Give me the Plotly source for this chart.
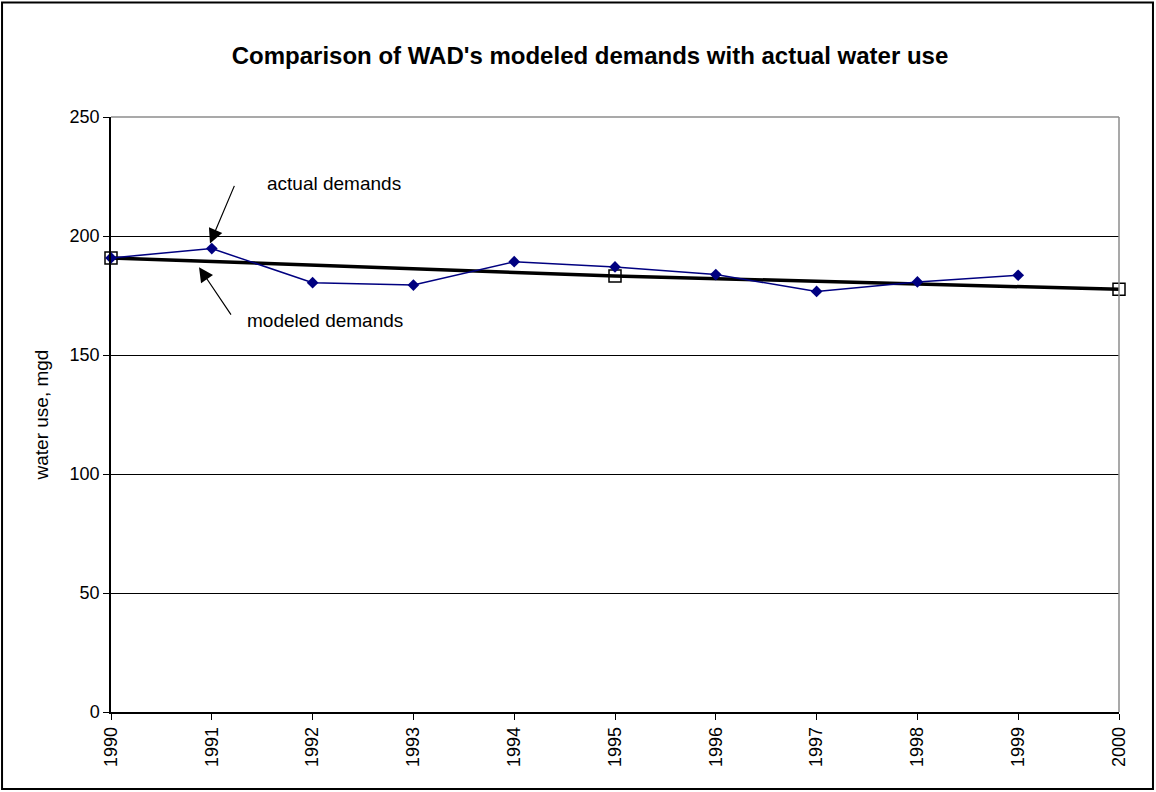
import plotly.graph_objects as go

# ----------------------------------
# DATA
# ----------------------------------

years = ["1990", "1991", "1992", "1993", "1994", "1995",
         "1996", "1997", "1998", "1999", "2000"]

actual_years = ["1990", "1991", "1992", "1993", "1994",
                "1995", "1996", "1997", "1998", "1999"]
actual_use = [190.8, 194.7, 180.4, 179.4, 189.2,
              187.0, 183.8, 176.7, 180.7, 183.5]

modeled_years = ["1990", "1995", "2000"]
modeled_use = [190.8, 183.2, 177.6]

y_ticks = [0, 50, 100, 150, 200, 250]

FONT = "Liberation Sans, Arial, sans-serif"

# ----------------------------------
# FIGURE
# ----------------------------------

fig = go.Figure()

fig.add_trace(go.Scatter(
    x=modeled_years,
    y=modeled_use,
    mode="lines+markers",
    name="modeled demands",
    line=dict(color="black", width=3.5),
    marker=dict(symbol="square-open", size=12, color="black",
                line=dict(width=1.5)),
    cliponaxis=False
))

fig.add_trace(go.Scatter(
    x=actual_years,
    y=actual_use,
    mode="lines+markers",
    name="actual demands",
    line=dict(color="#000080", width=1.5),
    marker=dict(symbol="diamond", size=9, color="#000080"),
    cliponaxis=False
))

# arrows + labels
fig.add_annotation(
    x=0.982, y=196.9, xref="x", yref="y",
    ax=25, ay=-59, axref="pixel", ayref="pixel",
    text="", showarrow=True,
    arrowhead=2, arrowsize=2.4, arrowwidth=1.2, arrowcolor="black"
)
fig.add_annotation(
    x=1.528, y=222.1, xref="x", yref="y",
    text="actual demands", showarrow=False,
    xanchor="left", yanchor="middle",
    font=dict(family=FONT, size=19, color="black")
)
fig.add_annotation(
    x=0.873, y=186.9, xref="x", yref="y",
    ax=33, ay=49, axref="pixel", ayref="pixel",
    text="", showarrow=True,
    arrowhead=2, arrowsize=2.4, arrowwidth=1.2, arrowcolor="black"
)
fig.add_annotation(
    x=1.329, y=164.6, xref="x", yref="y",
    text="modeled demands", showarrow=False,
    xanchor="left", yanchor="middle",
    font=dict(family=FONT, size=19, color="black")
)

# y axis title
fig.add_annotation(
    x=-0.0685, y=0.5, xref="paper", yref="paper",
    text="water use, mgd", textangle=-90, showarrow=False,
    xanchor="center", yanchor="middle",
    font=dict(family=FONT, size=19, color="black")
)

# outer frame + gray plot border (top / right)
fig.add_shape(type="rect", xref="paper", yref="paper",
              x0=-0.1081, x1=1.0337, y0=-0.1293, y1=1.1925,
              line=dict(color="black", width=2))
fig.add_shape(type="line", xref="paper", yref="paper",
              x0=0, x1=1, y0=1, y1=1, layer="above",
              line=dict(color="#8c8c8c", width=1.5))
fig.add_shape(type="line", xref="paper", yref="paper",
              x0=1, x1=1, y0=0, y1=1, layer="above",
              line=dict(color="#8c8c8c", width=1.5))

fig.update_layout(
    width=1156,
    height=792,
    margin=dict(l=111, r=37, t=117, b=80),
    paper_bgcolor="white",
    plot_bgcolor="white",
    showlegend=False,
    font=dict(family=FONT, size=18, color="black"),
    title=dict(
        text="<b>Comparison of WAD's modeled demands with actual water use</b>",
        x=590 / 1156, xanchor="center",
        y=1 - 56 / 792, yanchor="middle",
        font=dict(family=FONT, size=24, color="black")
    )
)

fig.update_xaxes(
    type="category",
    categoryorder="array",
    categoryarray=years,
    range=[0, 10],
    tickangle=-90,
    showgrid=False,
    showline=True, linecolor="black", linewidth=1.5,
    ticks="outside", ticklen=6, tickcolor="black",
    tickfont=dict(family=FONT, size=18)
)

fig.update_yaxes(
    range=[0, 250],
    tickvals=y_ticks,
    showgrid=True, gridcolor="black", gridwidth=1,
    zeroline=False,
    showline=True, linecolor="black", linewidth=1.5,
    ticks="outside", ticklen=6, tickcolor="black",
    tickfont=dict(family=FONT, size=18)
)

fig.write_html(
    "out.html",
    config={"displayModeBar": False},
    post_script="document.body.style.margin='0px';"
)
